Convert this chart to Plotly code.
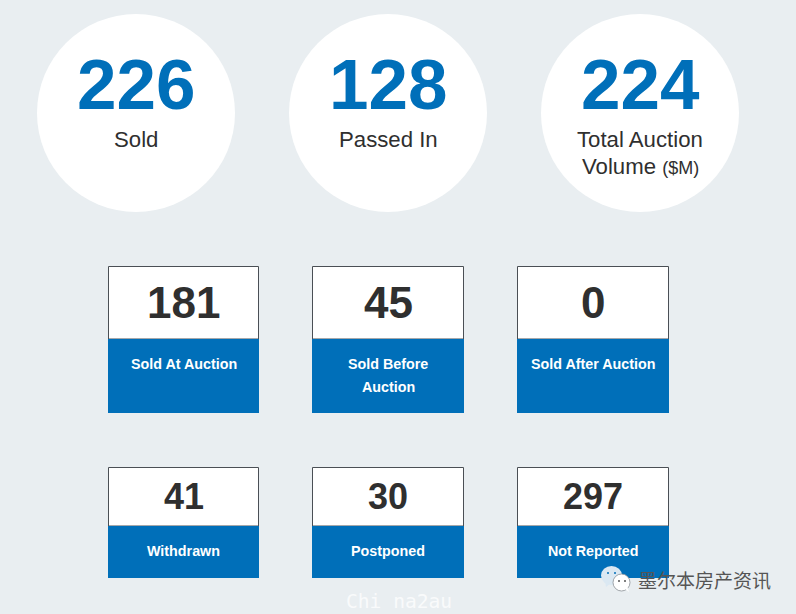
import plotly.graph_objects as go

# values
circle_values = ['226', '128', '224']
circle_labels = [['Sold'], ['Passed In'], ['Total Auction', "Volume <span style='font-size:18px'>($M)</span>"]]
box_values_top = ['181', '45', '0']
box_labels_top = [['Sold At Auction'], ['Sold Before', 'Auction'], ['Sold After Auction']]
box_values_bottom = ['41', '30', '297']
box_labels_bottom = [['Withdrawn'], ['Postponed'], ['Not Reported']]
wechat_name = '墨尔本房产资讯'
watermark = 'Chi na2au'

BLUE = '#006fb9'
BG = '#e9eef1'
DARK = '#2f2f2f'
SANS = 'Liberation Sans, Arial, sans-serif'

fig = go.Figure()
shapes = []
notes = []


def add_text(x, y, text, size, color, bold=False, family=SANS):
    if bold:
        text = '<b>' + text + '</b>'
    notes.append(dict(x=x, y=y, text=text, showarrow=False, xanchor='center', yanchor='middle',
                      font=dict(size=size, color=color, family=family)))


# big circles
for cx, val, labels in zip([136, 388, 640], circle_values, circle_labels):
    shapes.append(dict(type='circle', x0=cx - 99, x1=cx + 99, y0=14, y1=212,
                       fillcolor='white', line=dict(width=0), layer='below'))
    add_text(cx, 84, val, 71, BLUE, bold=True)
    for i, line in enumerate(labels):
        add_text(cx, 139.5 + i * 27, line, 22.2, DARK)


# boxes, white top part with the number and blue bottom part with the label
def add_box(x0, x1, y0, ym, y1, val, labels, size, val_y, label_y):
    shapes.append(dict(type='rect', x0=x0 + 0.5, x1=x1 - 0.5, y0=y0 + 0.5, y1=ym, fillcolor='white',
                       line=dict(width=1, color='#4a4f55'), layer='below'))
    shapes.append(dict(type='rect', x0=x0, x1=x1, y0=ym, y1=y1, fillcolor=BLUE,
                       line=dict(width=0), layer='below'))
    add_text((x0 + x1) / 2, val_y, val, size, DARK, bold=True)
    for i, line in enumerate(labels):
        add_text((x0 + x1) / 2, label_y + i * 23, line, 14.3, 'white', bold=True)


columns = [(108, 259), (312, 464), (517, 669)]
for (x0, x1), val, labels in zip(columns, box_values_top, box_labels_top):
    add_box(x0, x1, 266, 339, 413, val, labels, 44, 302.5, 364)
for (x0, x1), val, labels in zip(columns, box_values_bottom, box_labels_bottom):
    add_box(x0, x1, 467, 526, 578, val, labels, 36, 496.5, 551)

# wechat logo bubbles
shapes.append(dict(type='circle', x0=601, x1=622, y0=566, y1=585, fillcolor='#dbe8f2',
                   line=dict(width=0)))
shapes.append(dict(type='path', path='M 605 581 L 606 587 L 611 583 Z', fillcolor='#dbe8f2',
                   line=dict(width=0)))
shapes.append(dict(type='circle', x0=613, x1=630, y0=574, y1=591, fillcolor='white',
                   line=dict(width=0.8, color='#8a8f94')))
shapes.append(dict(type='path', path='M 624 588 L 629 592 L 627 586 Z', fillcolor='white',
                   line=dict(width=0)))
for x0, y0, col in [(607, 572, BLUE), (614, 572, BLUE), (618, 580, '#555555'), (624, 580, '#555555')]:
    shapes.append(dict(type='circle', x0=x0, x1=x0 + 2, y0=y0, y1=y0 + 2, fillcolor=col, line=dict(width=0)))

add_text(704, 579, wechat_name, 19, '#555555', family='Noto Sans CJK SC')
add_text(398.5, 601, watermark, 19.6, 'rgba(255,255,255,0.75)', family='DejaVu Sans Mono')

fig.update_layout(
    width=796, height=614,
    margin=dict(l=0, r=0, t=0, b=0),
    paper_bgcolor=BG, plot_bgcolor=BG,
    showlegend=False,
    shapes=shapes, annotations=notes,
    xaxis=dict(range=[0, 796], visible=False, fixedrange=True),
    yaxis=dict(range=[614, 0], visible=False, fixedrange=True),
)
# no page margin around the figure, no modebar
fig.write_html('out.html', config={'displayModeBar': False},
               post_script="document.body.style.margin='0';")
